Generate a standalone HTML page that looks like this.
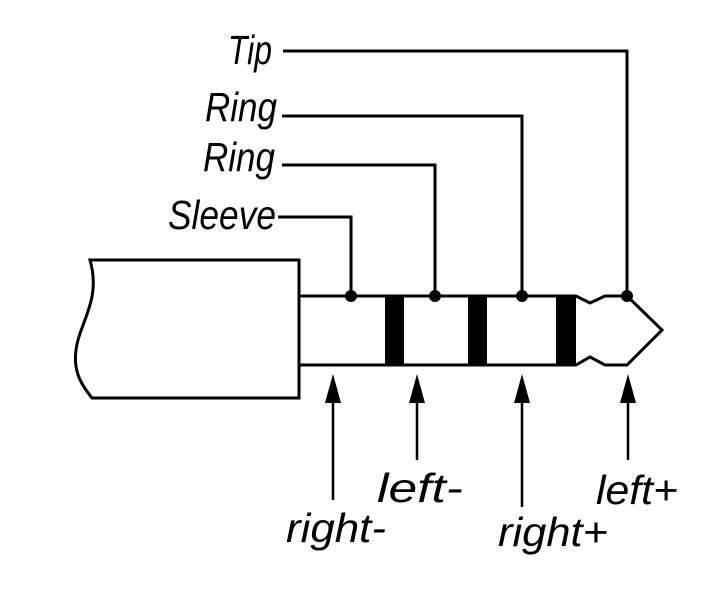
<!DOCTYPE html>
<html><head><style>html,body{margin:0;padding:0;background:#fff;}svg{display:block}</style></head>
<body>
<svg width="720" height="600" viewBox="0 0 720 600" xmlns="http://www.w3.org/2000/svg">
<g fill="none" stroke="#000" stroke-width="3">
<path d="M90 260 L299 260 L299 398 L92 398 C82 385 70 370 78 340 C85 315 100 295 90 260 Z" stroke-width="3"/>
<path d="M299 296 L576 296 L590 303 L605 296 L627 296 L662 330 L627 365 L605 365 L590 357 L576 365 L299 365"/>
<path d="M283 51 L627 51 L627 296"/>
<path d="M282 116 L522 116 L522 296"/>
<path d="M282 165 L435 165 L435 296"/>
<path d="M278 217 L351 217 L351 296"/>
<path d="M333 402 L333 500 M417 402 L417 460 M522 402 L522 507 M628 402 L628 460" stroke-width="2.5"/>
</g>
<g fill="#000">
<rect x="385" y="296" width="19" height="69"/>
<rect x="468" y="296" width="19" height="69"/>
<rect x="556" y="296" width="20" height="69"/>
<circle cx="351" cy="296" r="6"/><circle cx="435" cy="296" r="6"/><circle cx="522" cy="296" r="6"/><circle cx="627" cy="296" r="6"/>
<path d="M333 374 L325 403 L341 403 Z M417 374 L409 403 L425 403 Z M522 374 L514 403 L530 403 Z M628 374 L620 403 L636 403 Z"/>
</g>
<g font-family="Liberation Sans, sans-serif" font-style="italic" font-size="41" fill="#000">
<text x="228" y="64" textLength="44" lengthAdjust="spacingAndGlyphs">Tip</text>
<text x="205" y="121" textLength="72" lengthAdjust="spacingAndGlyphs">Ring</text>
<text x="203" y="171" textLength="72" lengthAdjust="spacingAndGlyphs">Ring</text>
<text x="168" y="229" textLength="108" lengthAdjust="spacingAndGlyphs">Sleeve</text>
<text x="286" y="542" textLength="100" lengthAdjust="spacingAndGlyphs">right-</text>
<text x="377" y="502" textLength="86" lengthAdjust="spacingAndGlyphs">left-</text>
<text x="498" y="546" textLength="110" lengthAdjust="spacingAndGlyphs">right+</text>
<text x="596" y="504" textLength="82" lengthAdjust="spacingAndGlyphs">left+</text>
</g>
</svg>
</body></html>
